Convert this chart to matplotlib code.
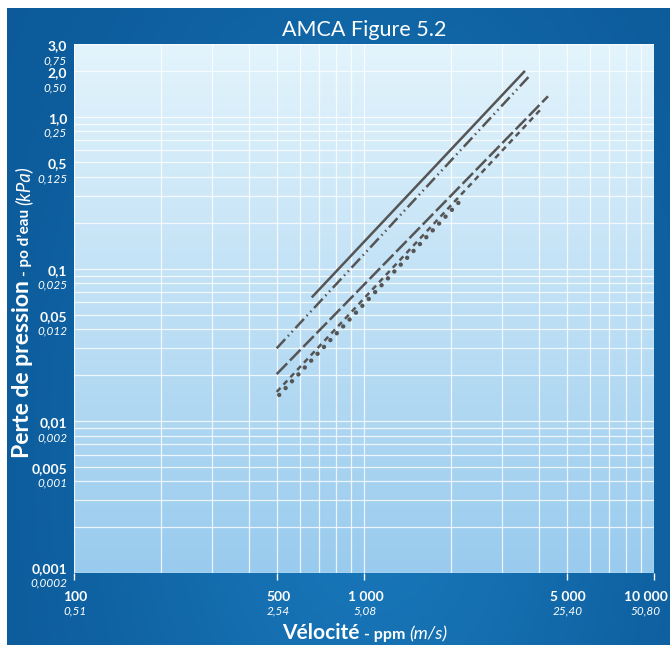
import numpy as np
import matplotlib.pyplot as plt
from matplotlib.ticker import LogLocator, NullFormatter
from matplotlib.transforms import IdentityTransform
from matplotlib.colors import to_rgb

plt.rcParams['font.family'] = ['Lato', 'DejaVu Sans']

# curves (ppm, po d'eau) - end points, straight on log-log
solid_x = [665, 3565]
solid_y = [0.0657, 1.97]
dashdotdot_x = [500, 3760]
dashdotdot_y = [0.0300, 1.89]
longdash_x = [500, 4310]
longdash_y = [0.0203, 1.36]
shortdash_x = [500, 4040]
shortdash_y = [0.0155, 1.10]
dotted_x = [510, 2150]
dotted_y = [0.0148, 0.28]

# tick labels: ppm / m/s and po d'eau / kPa
x_ticks = [100, 500, 1000, 5000, 10000]
x_lab_ppm = ['100', '500', '1 000', '5 000', '10 000']
x_lab_ms = ['0,51', '2,54', '5,08', '25,40', '50,80']
y_ticks = [3.0, 2.0, 1.0, 0.5, 0.1, 0.05, 0.01, 0.005, 0.001]
y_lab_po = ['3,0', '2,0', '1,0', '0,5', '0,1', '0,05', '0,01', '0,005', '0,001']
y_lab_kpa = ['0,75', '0,50', '0,25', '0,125', '0,025', '0,012', '0,002', '0,001', '0,0002']

W, H = 670, 645
LINE = '#555555'
fig = plt.figure(figsize=(W / 100, H / 100), dpi=100, facecolor='white')

# dark blue frame with a soft lighter centre
frame = fig.add_axes([7 / W, 0, (W - 7) / W, (H - 8) / H])
frame.axis('off')
gx, gy = np.meshgrid(np.linspace(0, 1, 200), np.linspace(0, 1, 200))
f = np.exp(-((gx - 0.55) ** 2 / 0.18 + (gy - 0.3) ** 2 / 0.6))
edge, centre = np.array(to_rgb('#0b5897')), np.array(to_rgb('#1876b8'))
frame.imshow(edge + (centre - edge) * f[..., None], extent=[0, 1, 0, 1],
             origin='lower', aspect='auto')
frame.set_xlim(0, 1)
frame.set_ylim(0, 1)

# light blue plot background, lighter at the top
rect = [74 / W, (H - 573) / H, 580 / W, 529 / H]
grad = fig.add_axes(rect)
grad.axis('off')
t = np.linspace(0, 1, 256)[:, None]
top, bot = np.array(to_rgb('#e3f4fc')), np.array(to_rgb('#99cbee'))
grad.imshow(np.repeat((bot + (top - bot) * t)[:, None, :], 2, axis=1),
            extent=[0, 1, 0, 1], origin='lower', aspect='auto')
grad.set_xlim(0, 1)
grad.set_ylim(0, 1)

ax = fig.add_axes(rect)
ax.patch.set_alpha(0)
ax.set_xscale('log')
ax.set_yscale('log')
ax.set_xlim(100, 10000)
ax.set_ylim(0.001, 3.0)
ax.set_xticks(x_ticks)
ax.xaxis.set_minor_locator(LogLocator(base=10, subs=np.arange(2, 10), numticks=30))
ax.yaxis.set_major_locator(LogLocator(base=10, numticks=30))
ax.yaxis.set_minor_locator(LogLocator(base=10, subs=np.arange(2, 10), numticks=30))
for a in (ax.xaxis, ax.yaxis):
    a.set_major_formatter(NullFormatter())
    a.set_minor_formatter(NullFormatter())
ax.grid(True, which='both', color='white', lw=0.9, alpha=0.8)
ax.tick_params(axis='x', which='major', length=5, color='white', width=1)
ax.tick_params(axis='x', which='minor', length=0)
ax.tick_params(axis='y', which='both', length=0)
for s in ax.spines.values():
    s.set_visible(False)

ax.plot(solid_x, solid_y, color=LINE, lw=1.8)
ax.plot(dashdotdot_x, dashdotdot_y, color=LINE, lw=1.8, dashes=[5, 1.6, 0.6, 1.6, 0.6, 1.6])
ax.plot(longdash_x, longdash_y, color=LINE, lw=1.8, dashes=[6, 1.6])
ax.plot(shortdash_x, shortdash_y, color=LINE, lw=1.8, dashes=[2.2, 1.8])
ax.plot(dotted_x, dotted_y, color=LINE, lw=3.2, dashes=[0.01, 2.1], dash_capstyle='round')

for v, a, b in zip(y_ticks, y_lab_po, y_lab_kpa):
    dy = 4.5 if v == y_ticks[-1] else 0   # bottom pair sits a bit higher
    ax.annotate(a, xy=(0, v), xycoords=('axes fraction', 'data'), xytext=(-5, -1.5 + dy),
                textcoords='offset points', ha='right', va='center', color='white',
                fontsize=10, fontweight='bold', annotation_clip=False)
    ax.annotate(b, xy=(0, v), xycoords=('axes fraction', 'data'), xytext=(-5, -12 + dy),
                textcoords='offset points', ha='right', va='center', color='white',
                fontsize=8.5, fontstyle='italic', annotation_clip=False)

for v, a, b in zip(x_ticks, x_lab_ppm, x_lab_ms):
    dx = -6 if v == 10000 else 1
    ax.annotate(a, xy=(v, 0), xycoords=('data', 'axes fraction'), xytext=(dx, -17),
                textcoords='offset points', ha='center', va='center', color='white',
                fontsize=10, fontweight='bold', annotation_clip=False)
    ax.annotate(b, xy=(v, 0), xycoords=('data', 'axes fraction'), xytext=(dx, -27.5),
                textcoords='offset points', ha='center', va='center', color='white',
                fontsize=8.5, fontstyle='italic', annotation_clip=False)

fig.text(364 / W, 1 - 30 / H, 'AMCA Figure 5.2', ha='center', va='center',
         color='white', fontsize=15.5)


def chain(pieces, cx, cy, vertical, gap=4):
    # lay text pieces of mixed styles one after another, centred on (cx, cy) pixels
    renderer = fig.canvas.get_renderer()
    items = []
    for s, kw in pieces:
        tx = fig.text(0, 0, s, transform=IdentityTransform(), color='white',
                      ha='left', va='baseline', rotation=90 if vertical else 0,
                      rotation_mode='anchor', **kw)
        bb = tx.get_window_extent(renderer)
        items.append((tx, bb.height if vertical else bb.width))
    total = sum(l for _, l in items) + gap * (len(items) - 1)
    pos = (cy if vertical else cx) - total / 2
    for tx, l in items:
        tx.set_position((cx, pos) if vertical else (pos, cy))
        pos += l + gap


chain([('Perte de pression', dict(fontsize=16.5, fontweight='bold')),
       ('- po d’eau', dict(fontsize=11, fontweight='bold')),
       ('(kPa)', dict(fontsize=13.5, fontstyle='italic'))],
      29, H - 312, vertical=True)
chain([('Vélocité', dict(fontsize=15, fontweight='bold')),
       ('- ppm', dict(fontsize=11.5, fontweight='bold')),
       ('(m/s)', dict(fontsize=13, fontstyle='italic'))],
      365, H - 639, vertical=False)

fig.savefig('out.png', dpi=100)
